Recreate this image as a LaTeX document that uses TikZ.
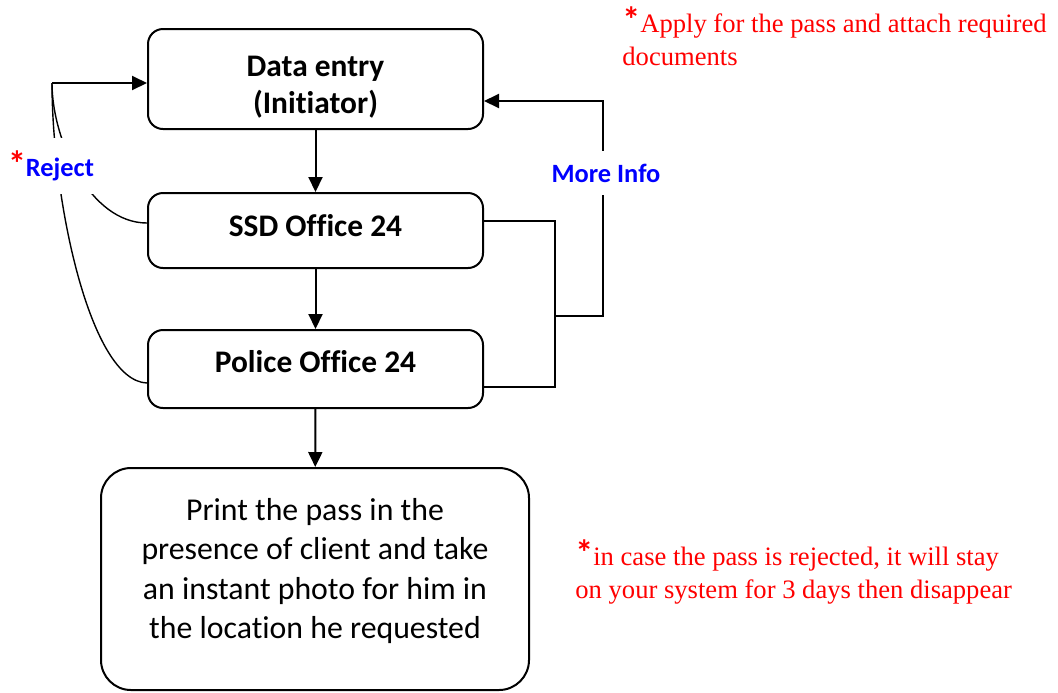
\documentclass[tikz,border=0pt]{standalone}
\usepackage{fontspec}
\setmainfont{Liberation Serif}
\setsansfont[Ligatures=NoCommon]{Carlito}
\usetikzlibrary{arrows.meta}

\tikzset{
  stagebox/.style={draw, line width=1pt, rounded corners=7.5pt, minimum width=167.5pt,
    font=\sffamily\bfseries\fontsize{15.7}{18.7}\selectfont, align=center},
  finalbox/.style={draw, line width=1pt, rounded corners=15pt, minimum width=214pt,
    minimum height=111pt, font=\sffamily\fontsize{15.9}{19.6}\selectfont, align=center},
  flow/.style={line width=1pt, -{Triangle[length=7.5pt,width=7pt]}},
  link/.style={line width=1pt},
  back/.style={line width=0.7pt},
  tag/.style={fill=white, inner xsep=2pt, inner ysep=6.5pt, text=blue,
    font=\sffamily\bfseries\fontsize{13.2}{15}\selectfont},
  note/.style={anchor=north west, inner sep=0pt, align=left, text=red, text height=28.5pt,
    font=\fontsize{13.3}{16.5}\selectfont},
}
\newcommand{\redstar}{\textcolor{red}{\sffamily\bfseries\fontsize{18}{18}\selectfont *}}

\begin{document}
\begin{tikzpicture}[x=0.5pt, y=-0.5pt]
  \useasboundingbox (0,0) rectangle (1058,692);

  % stages
  \node[stagebox, minimum height=50pt, inner ysep=2pt, text height=38.5pt, text depth=4pt] (entry) at (315.5,79) {Data entry\\(Initiator)};
  \node[stagebox, minimum height=37.5pt, text height=10pt, text depth=4.2pt] (ssd) at (315.5,230.5) {SSD Office 24};
  \node[stagebox, minimum height=39pt, text height=10pt, text depth=6.3pt] (police) at (315.5,369) {Police Office 24};
  \node[finalbox, text height=63.2pt, text depth=4pt] (print) at (315,579) {Print the pass in the\\presence of client and take\\an instant photo for him in\\the location he requested};

  \draw[flow] (entry) -- (ssd);
  \draw[flow] (ssd) -- (police);
  \draw[flow] (police) -- (print);

  % reject loop
  \coordinate (rj) at (52,83);
  \draw[back] ([yshift=3.75pt]ssd.west) .. controls (90,223) and (52,140) .. (rj);
  \draw[back] ([yshift=-7pt]police.west) .. controls (90,381) and (52,200) .. (rj);
  \draw[flow] (rj) -- ([yshift=-2pt]entry.west);
  \node[tag] (reject) at (51,166) {\redstar Reject};

  % more info loop
  \coordinate (mj) at (555,316);
  \coordinate (mt) at (603,101);
  \draw[link] ([yshift=4.75pt]ssd.east) -| (mj) |- ([yshift=-9pt]police.east);
  \draw[flow] (mj) -| (mt) -- ([yshift=-11pt]entry.east);
  \node[tag] (more) at (606,173) {More Info};

  % notes
  \node[note] (apply) at (622,8) {\redstar Apply for the pass and attach required\\documents};
  \node[note] (stay) at (575,541) {\redstar in case the pass is rejected, it will stay\\on your system for 3 days then disappear};
\end{tikzpicture}
\end{document}
